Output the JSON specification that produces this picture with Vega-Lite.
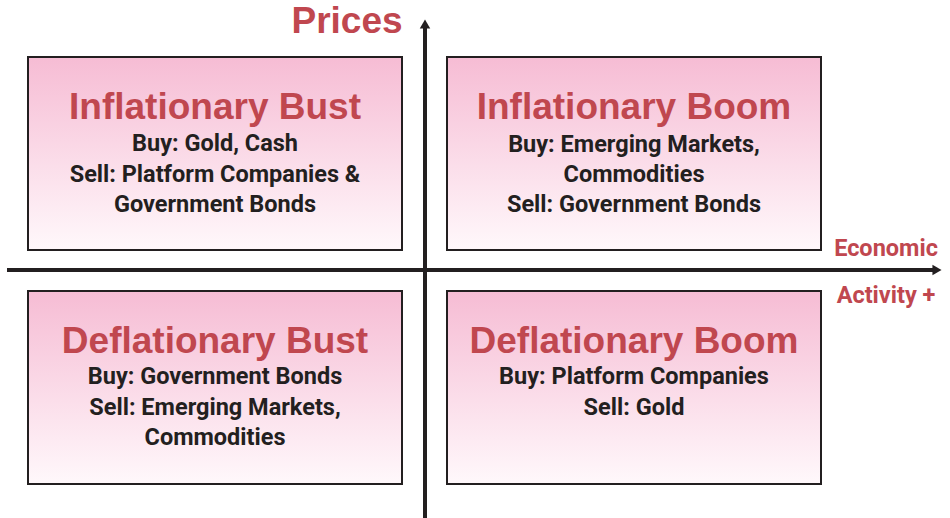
{
  "$schema": "https://vega.github.io/schema/vega-lite/v6.json",
  "width": 950,
  "height": 518,
  "padding": 0,
  "autosize": {"type": "none"},
  "background": "white",
  "config": {"view": {"stroke": null}},
  "datasets": {
    "boxes": [
      {"q": "Inflationary Bust", "x1": 28, "x2": 402, "y1": 57, "y2": 250},
      {"q": "Inflationary Boom", "x1": 447, "x2": 821, "y1": 57, "y2": 250},
      {"q": "Deflationary Bust", "x1": 28, "x2": 402, "y1": 291, "y2": 484},
      {"q": "Deflationary Boom", "x1": 447, "x2": 821, "y1": 291, "y2": 484}
    ],
    "axes": [
      {"name": "Prices", "x1": 425, "x2": 425, "y1": 518, "y2": 26},
      {"name": "Economic Activity", "x1": 7, "x2": 934, "y1": 270, "y2": 270}
    ],
    "heads": [
      {"name": "Prices", "x": 425, "y": 24, "dir": "up"},
      {"name": "Economic Activity", "x": 937, "y": 270, "dir": "right"}
    ],
    "titles": [
      {"text": "Inflationary Bust", "x": 215, "y": 108},
      {"text": "Inflationary Boom", "x": 634, "y": 108},
      {"text": "Deflationary Bust", "x": 215, "y": 342},
      {"text": "Deflationary Boom", "x": 634, "y": 342}
    ],
    "body": [
      {"text": "Buy: Gold, Cash", "x": 215, "y": 144},
      {"text": "Sell: Platform Companies &", "x": 215, "y": 175},
      {"text": "Government Bonds", "x": 215, "y": 205},
      {"text": "Buy: Emerging Markets,", "x": 634, "y": 145},
      {"text": "Commodities", "x": 634, "y": 175},
      {"text": "Sell: Government Bonds", "x": 634, "y": 205},
      {"text": "Buy: Government Bonds", "x": 215, "y": 377},
      {"text": "Sell: Emerging Markets,", "x": 215, "y": 408},
      {"text": "Commodities", "x": 215, "y": 438},
      {"text": "Buy: Platform Companies", "x": 634, "y": 377},
      {"text": "Sell: Gold", "x": 634, "y": 408}
    ],
    "labels": [
      {"text": "Prices", "x": 347, "y": 22, "size": "big"},
      {"text": "Economic", "x": 886, "y": 249, "size": "small"},
      {"text": "Activity +", "x": 886, "y": 296, "size": "small"}
    ]
  },
  "layer": [
    {
      "data": {"name": "boxes"},
      "mark": {"type": "rect", "fill": "#c8c8c8", "xOffset": 3, "yOffset": 3},
      "encoding": {
        "x": {"field": "x1", "type": "quantitative", "scale": {"domain": [0, 950], "nice": false, "zero": false}, "axis": null},
        "x2": {"field": "x2"},
        "y": {"field": "y1", "type": "quantitative", "scale": {"domain": [0, 518], "reverse": true, "nice": false, "zero": false}, "axis": null},
        "y2": {"field": "y2"}
      }
    },
    {
      "data": {"name": "boxes"},
      "mark": {
        "type": "rect",
        "stroke": "#231f20",
        "strokeWidth": 2,
        "fill": {
          "gradient": "linear",
          "x1": 0, "y1": 0, "x2": 0, "y2": 1,
          "stops": [
            {"offset": 0, "color": "#f6bcd4"},
            {"offset": 1, "color": "#fff8fb"}
          ]
        }
      },
      "encoding": {
        "x": {"field": "x1", "type": "quantitative"},
        "x2": {"field": "x2"},
        "y": {"field": "y1", "type": "quantitative"},
        "y2": {"field": "y2"}
      }
    },
    {
      "data": {"name": "axes"},
      "mark": {"type": "rule", "color": "#231f20", "strokeWidth": 4},
      "encoding": {
        "x": {"field": "x1", "type": "quantitative"},
        "x2": {"field": "x2"},
        "y": {"field": "y1", "type": "quantitative"},
        "y2": {"field": "y2"}
      }
    },
    {
      "data": {"name": "heads"},
      "transform": [{"filter": "datum.dir == 'up'"}],
      "mark": {"type": "point", "shape": "triangle-up", "filled": true, "color": "#231f20", "size": 110, "opacity": 1},
      "encoding": {
        "x": {"field": "x", "type": "quantitative"},
        "y": {"field": "y", "type": "quantitative"}
      }
    },
    {
      "data": {"name": "heads"},
      "transform": [{"filter": "datum.dir == 'right'"}],
      "mark": {"type": "point", "shape": "triangle-right", "filled": true, "color": "#231f20", "size": 110, "opacity": 1},
      "encoding": {
        "x": {"field": "x", "type": "quantitative"},
        "y": {"field": "y", "type": "quantitative"}
      }
    },
    {
      "data": {"name": "titles"},
      "mark": {"type": "text", "font": "Liberation Sans", "fontWeight": "bold", "fontSize": 37, "color": "#c0474f", "align": "center", "baseline": "middle"},
      "encoding": {
        "x": {"field": "x", "type": "quantitative"},
        "y": {"field": "y", "type": "quantitative"},
        "text": {"field": "text"}
      }
    },
    {
      "data": {"name": "body"},
      "mark": {"type": "text", "font": "Roboto", "fontWeight": "bold", "fontSize": 23.5, "color": "#231f20", "align": "center", "baseline": "middle"},
      "encoding": {
        "x": {"field": "x", "type": "quantitative"},
        "y": {"field": "y", "type": "quantitative"},
        "text": {"field": "text"}
      }
    },
    {
      "data": {"name": "labels"},
      "transform": [{"filter": "datum.size == 'big'"}],
      "mark": {"type": "text", "font": "Liberation Sans", "fontWeight": "bold", "fontSize": 37, "color": "#c0474f", "align": "center", "baseline": "middle"},
      "encoding": {
        "x": {"field": "x", "type": "quantitative"},
        "y": {"field": "y", "type": "quantitative"},
        "text": {"field": "text"}
      }
    },
    {
      "data": {"name": "labels"},
      "transform": [{"filter": "datum.size == 'small'"}],
      "mark": {"type": "text", "font": "Roboto", "fontWeight": "bold", "fontSize": 23.5, "color": "#c0474f", "align": "center", "baseline": "middle"},
      "encoding": {
        "x": {"field": "x", "type": "quantitative"},
        "y": {"field": "y", "type": "quantitative"},
        "text": {"field": "text"}
      }
    }
  ]
}
